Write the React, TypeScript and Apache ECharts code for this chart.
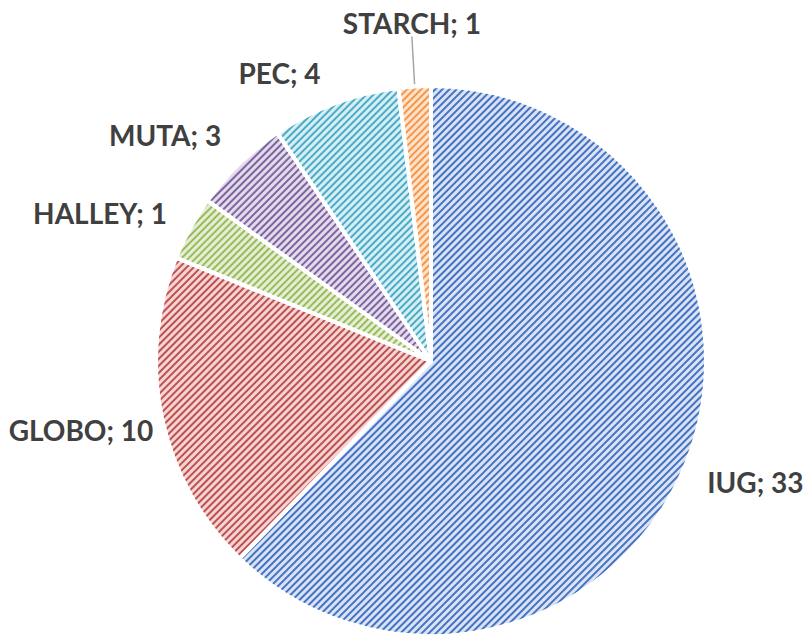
import React, { useEffect, useRef } from "react";
import * as echarts from "echarts";

const categories = ["IUG", "GLOBO", "HALLEY", "MUTA", "PEC", "STARCH"];
// slice sizes as drawn in the picture
const sliceValues = [33, 10, 2, 3, 4, 1];
// values as printed in the data labels
const labelValues = [33, 10, 1, 3, 4, 1];
const lineColors = ["#4472c4", "#c0504d", "#9bbb59", "#8064a2", "#4bacc6", "#f79646"];
const fillColors = ["#dae3f3", "#f2d5d4", "#e4eed6", "#e1dbea", "#d6eef4", "#fde3cd"];
// small nudges of the label boxes (Excel places them a little differently)
const labelNudgeX = [-4, 18, 1, 2, -2, 0];
const labelNudgeY = [9, 8, -5, -13, -10, 0];

export default function App() {
  const ref = useRef<HTMLDivElement>(null);
  useEffect(() => {
    if (!ref.current) return;
    const chart = echarts.init(ref.current, undefined, { renderer: "svg" });
    const data = categories.map((name, i) => ({
      name,
      value: sliceValues[i],
      itemStyle: {
        color: fillColors[i],
        decal: {
          symbol: "rect",
          symbolSize: 1,
          color: lineColors[i],
          backgroundColor: fillColors[i],
          dashArrayX: [1, 0],
          dashArrayY: [1.3, 2.4],
          rotation: -Math.PI / 4,
        },
      },
      labelLine:
        name === "STARCH"
          ? { show: true, length: 48, length2: 0 }
          : { show: false },
    }));
    chart.setOption({
      animation: false,
      backgroundColor: "#ffffff",
      series: [
        {
          type: "pie",
          center: [431, 361],
          radius: 275,
          startAngle: 90,
          clockwise: true,
          avoidLabelOverlap: false,
          data,
          itemStyle: { borderColor: "#ffffff", borderWidth: 4 },
          label: {
            show: true,
            position: "outside",
            formatter: (p: any) => `${p.name}; ${labelValues[p.dataIndex]}`,
            fontFamily: "Lato",
            fontWeight: "bold",
            fontSize: 28,
            color: "#404040",
          },
          labelLine: {
            show: true,
            length: 22,
            length2: 0,
            lineStyle: { color: "#a6a6a6", width: 1.5 },
          },
          labelLayout: (p: any) => {
            const i = p.dataIndex;
            if (categories[i] === "STARCH" && p.labelLinePoints) {
              const end = p.labelLinePoints[p.labelLinePoints.length - 1];
              return {
                x: end[0],
                y: end[1] - 2,
                align: "center",
                verticalAlign: "bottom",
                hideOverlap: false,
              };
            }
            return { dx: labelNudgeX[i], dy: labelNudgeY[i], hideOverlap: false };
          },
        },
      ],
    });
    return () => chart.dispose();
  }, []);
  return (
    <div
      ref={ref}
      style={{ position: "fixed", left: 0, top: 0, width: 809, height: 635 }}
    />
  );
}
